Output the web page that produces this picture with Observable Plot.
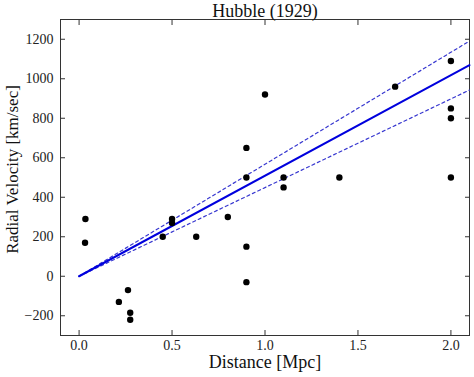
<!DOCTYPE html>
<html>
<head>
<meta charset="utf-8">
<script src="https://cdn.jsdelivr.net/npm/d3@7"></script>
<script src="https://cdn.jsdelivr.net/npm/@observablehq/plot@0.6"></script>
<style>
  html, body { margin: 0; padding: 0; background: #fff; }
</style>
</head>
<body>
<div id="chart"></div>
<script>
// Hubble (1929) galaxy data
const distance = [0.032, 0.034, 0.214, 0.263, 0.275, 0.275, 0.45, 0.5, 0.5, 0.63, 0.8, 0.9, 0.9, 0.9, 0.9, 1.0, 1.1, 1.1, 1.4, 1.7, 2.0, 2.0, 2.0, 2.0];
const velocity = [170, 290, -130, -70, -185, -220, 200, 290, 270, 200, 300, -30, 650, 150, 500, 920, 450, 500, 500, 960, 500, 850, 800, 1090];

// Fitted line (through origin) and its bounds: slopes in km/sec/Mpc
const fitRange = [0, 2.1];
const fitSlope = 509;
const upperSlope = 567;
const lowerSlope = 449;

const xTicks = [0, 0.5, 1.0, 1.5, 2.0];
const yTicks = [-200, 0, 200, 400, 600, 800, 1000, 1200];

const titleText = "Hubble (1929)";
const xLabel = "Distance [Mpc]";
const yLabel = "Radial Velocity [km/sec]";

const points = distance.map((d, i) => ({d, v: velocity[i]}));
const lineOf = (s) => fitRange.map(x => ({x, y: s * x}));

const font = "'Liberation Serif', 'DejaVu Serif', serif";

const chart = Plot.plot({
  width: 474,
  height: 377,
  marginLeft: 60,
  marginRight: 5,
  marginTop: 19,
  marginBottom: 42,
  style: {fontFamily: font, fontSize: "14px", color: "#222", background: "#fff"},
  x: {domain: [-0.1, 2.1]},
  y: {domain: [-300, 1300]},
  marks: [
    Plot.frame({stroke: "#333", strokeWidth: 1}),
    // tick labels
    Plot.axisX(xTicks, {anchor: "bottom", tickSize: 0, tickPadding: 5, tickFormat: d3.format(".1f"), label: null, fontSize: 14}),
    Plot.axisY(yTicks, {anchor: "left", tickSize: 0, tickPadding: 7, tickFormat: d => d < 0 ? "\u2212" + Math.abs(d) : String(d), label: null, fontSize: 14}),
    // inward tick marks on all sides
    Plot.axisX(xTicks, {anchor: "bottom", tickSize: -5, tickFormat: () => "", label: null, stroke: "#333"}),
    Plot.axisX(xTicks, {anchor: "top", tickSize: -5, tickFormat: () => "", label: null, stroke: "#333"}),
    Plot.axisY(yTicks, {anchor: "left", tickSize: -5, tickFormat: () => "", label: null, stroke: "#333"}),
    Plot.axisY(yTicks, {anchor: "right", tickSize: -5, tickFormat: () => "", label: null, stroke: "#333"}),
    // fit lines
    Plot.line(lineOf(upperSlope), {x: "x", y: "y", stroke: "#3838d0", strokeWidth: 1.2, strokeDasharray: "3,3"}),
    Plot.line(lineOf(lowerSlope), {x: "x", y: "y", stroke: "#3838d0", strokeWidth: 1.2, strokeDasharray: "3,3"}),
    Plot.line(lineOf(fitSlope), {x: "x", y: "y", stroke: "#0000dd", strokeWidth: 2}),
    // points
    Plot.dot(points, {x: "d", y: "v", r: 3.2, fill: "#000", stroke: "none"}),
    // title and axis labels
    Plot.text([titleText], {frameAnchor: "top", lineAnchor: "middle", dy: -8, fontSize: 18, fill: "#111"}),
    Plot.text([xLabel], {frameAnchor: "bottom", lineAnchor: "middle", dy: 27, fontSize: 18, fill: "#111"}),
    Plot.text([yLabel], {frameAnchor: "left", textAnchor: "middle", lineAnchor: "middle", dx: -48, dy: -8, rotate: -90, fontSize: 17, fill: "#111"})
  ]
});

document.getElementById("chart").appendChild(chart);
</script>
</body>
</html>
